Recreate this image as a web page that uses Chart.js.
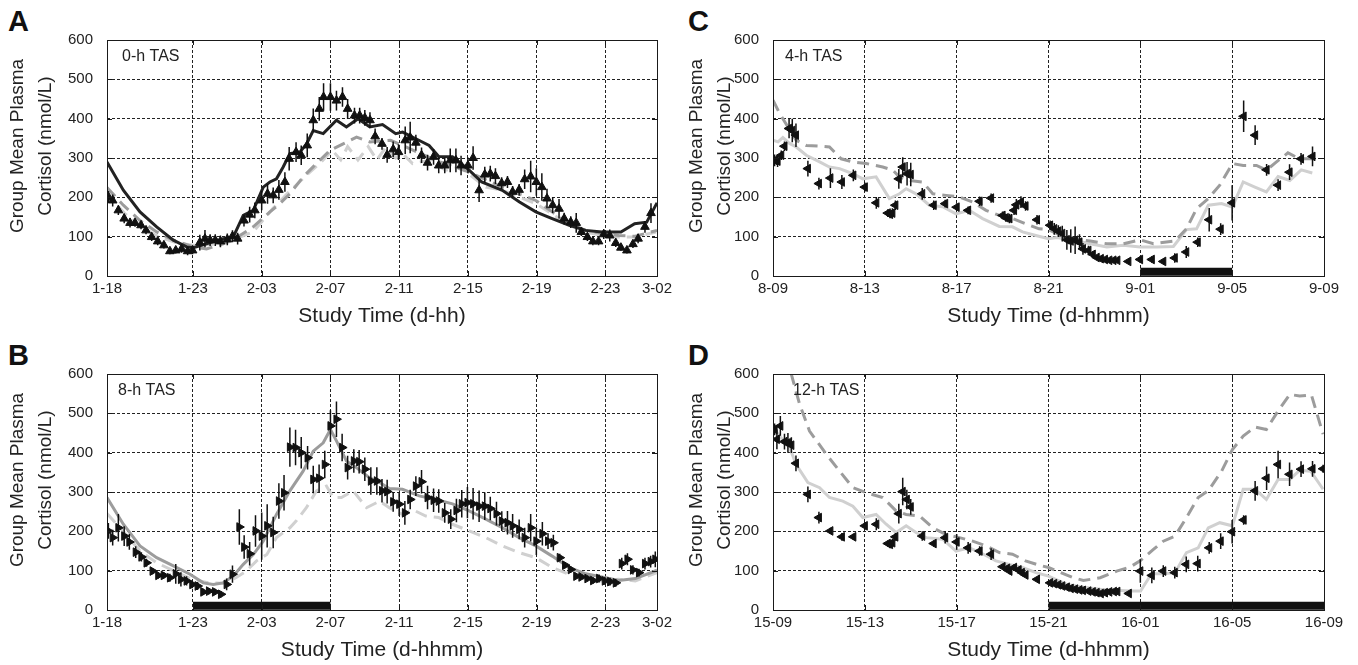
<!DOCTYPE html>
<html><head><meta charset="utf-8">
<script src="https://cdn.jsdelivr.net/npm/chart.js@4/dist/chart.umd.min.js"></script>
<style>
html,body{margin:0;padding:0;background:#fff;width:1358px;height:665px;overflow:hidden;position:relative;}
canvas{position:absolute;}
.lbl{position:absolute;font-family:'Liberation Sans',Arial,sans-serif;font-weight:bold;font-size:29px;line-height:29px;color:#111;}
</style></head><body>
<div class="lbl" style="left:8px;top:7px">A</div>
<div class="lbl" style="left:8px;top:341px">B</div>
<div class="lbl" style="left:688px;top:7px">C</div>
<div class="lbl" style="left:688px;top:341px">D</div>
<canvas id="cA" width="679" height="331" style="left:0;top:0"></canvas>
<canvas id="cB" width="679" height="331" style="left:0;top:334px"></canvas>
<canvas id="cC" width="679" height="331" style="left:679px;top:0"></canvas>
<canvas id="cD" width="679" height="331" style="left:679px;top:334px"></canvas>
<script>
// ---------- tick labels ----------
const abTickVals = [0,5,9,13,17,21,25,29,32];
const abTickLabels = ['1-18','1-23','2-03','2-07','2-11','2-15','2-19','2-23','3-02'];
const cdTickVals = [0,4,8,12,16,20,24];
const cTickLabels = ['8-09','8-13','8-17','8-21','9-01','9-05','9-09'];
const dTickLabels = ['15-09','15-13','15-17','15-21','16-01','16-05','16-09'];
const yTitleLines = ['Group Mean Plasma','Cortisol (nmol/L)'];

// ---------- Panel A (0-h TAS) ----------
const aHours = [0.08,0.33,0.66,1.0,1.34,1.63,1.98,2.27,2.6,2.95,3.31,3.66,4.0,4.34,4.69,4.98,5.4,5.7,6.0,6.3,6.6,7.0,7.3,7.6,7.97,8.3,8.6,9.0,9.34,9.67,10.0,10.35,10.6,11.0,11.3,11.65,12.0,12.35,12.6,13.0,13.35,13.7,14.0,14.4,14.7,15.0,15.3,15.6,16.0,16.3,16.65,16.96,17.35,17.64,17.97,18.3,18.65,19.0,19.3,19.65,19.97,20.3,20.6,21.0,21.3,21.65,21.98,22.3,22.6,22.96,23.3,23.6,23.98,24.3,24.65,24.98,25.3,25.6,25.93,26.3,26.6,26.98,27.3,27.6,27.95,28.27,28.6,28.9,29.25,29.6,29.9,30.25,30.6,30.9,31.3,31.65];
const aMean = [201,192,167,146,135,135,129,116,99,88,78,63,65,69,63,65,85,95,91,91,88,93,101,95,141,156,167,192,209,205,219,239,298,315,307,332,396,425,455,455,446,455,425,408,408,402,396,355,336,308,322,315,345,352,339,307,288,303,281,281,294,294,281,281,300,218,258,260,254,236,239,214,219,246,253,239,226,197,180,171,146,137,135,112,99,88,88,106,103,84,72,65,81,95,125,160];
const aErr = [15,15,12,12,12,10,10,10,10,10,8,8,8,10,10,10,20,22,15,15,15,15,15,15,15,20,20,25,25,20,25,25,30,25,25,30,30,30,35,35,25,25,25,20,20,20,20,20,15,20,20,20,35,40,20,20,20,20,20,20,30,30,25,20,30,30,20,20,20,15,15,15,15,25,40,35,35,25,20,25,15,15,25,10,10,10,10,12,15,10,8,8,10,12,15,25];
const aModelHours = [0,0.95,1.92,2.89,3.86,4.63,5.02,5.79,6.76,7.34,7.93,8.51,9.09,9.48,9.86,10.25,10.64,11.22,11.61,12.0,12.58,13.35,13.93,14.61,15.29,16.03,16.8,17.2,17.97,18.74,19.3,20.1,21.07,21.8,23.0,24.0,24.95,25.9,26.9,27.85,28.8,29.9,30.7,31.4,32];
const aModel = [290,218,163,125,91,74,72,82,95,99,154,167,226,239,247,277,311,315,336,370,362,396,379,400,379,385,362,366,349,332,304,303,269,239,218,188,163,146,129,116,112,112,133,137,186];
const aMidHours = [0,0.95,1.92,2.89,3.86,5.02,5.79,6.76,7.73,8.51,9.48,10.06,10.64,11.41,12.19,12.97,13.74,14.52,15.29,16.5,17.19,19.13,21.07,23.0,24.95,25.9,26.88,27.85,28.8,29.77,30.74,32];
const aMid = [225,180,141,112,91,74,69,82,103,125,163,184,209,252,286,319,336,353,341,345,332,294,264,226,192,163,133,116,108,103,101,116];
const aLightHours = [0,0.5,1,2,3,4,5,6,7,7.5,8.5,9.66,10.6,11.6,12.4,13.1,13.6,14.0,14.6,15.2,15.7,16.2,16.8,17.19,17.78,18.74,19.7,20.5,21.26,22.04,23.0,23.98,24.95,25.9,26.88,27.85,28.8,29.77,30.74,31.95];
const aLight = [215,185,160,125,100,85,78,80,85,95,112,172,214,256,287,320,295,329,295,329,295,326,300,311,286,294,269,277,252,226,218,201,184,158,129,112,103,99,99,112];

// ---------- Panel B (8-h TAS) ----------
const bHours = [0.08,0.33,0.66,1.0,1.3,1.67,2.0,2.3,2.65,2.98,3.3,3.66,4.0,4.3,4.63,4.96,5.27,5.6,5.93,6.28,6.63,6.96,7.3,7.7,7.98,8.3,8.64,9.0,9.32,9.67,10.0,10.3,10.64,10.97,11.3,11.67,12.0,12.34,12.67,13.0,13.35,13.68,14.0,14.36,14.67,15.0,15.35,15.7,16.0,16.3,16.65,17.0,17.33,17.64,17.97,18.3,18.65,19.0,19.3,19.65,20.0,20.33,20.64,20.97,21.3,21.65,21.98,22.3,22.66,22.97,23.3,23.6,23.98,24.3,24.65,24.98,25.33,25.66,25.97,26.34,26.65,26.98,27.3,27.6,27.95,28.28,28.63,28.96,29.27,29.6,29.95,30.28,30.6,30.95,31.3,31.63,31.9];
const bMean = [201,184,209,188,173,147,135,120,99,88,88,82,92,78,74,65,61,46,48,46,40,65,91,211,160,143,201,188,214,197,277,298,414,413,400,387,332,335,370,468,485,413,362,379,377,358,328,328,303,301,275,269,247,281,315,326,286,279,277,247,231,253,270,273,270,264,264,258,245,226,222,214,205,184,209,175,194,175,171,133,114,103,86,84,80,75,80,74,72,69,118,129,102,95,118,123,129];
const bErr = [20,20,35,25,20,15,12,10,8,8,8,10,25,18,12,10,10,8,8,8,8,15,22,45,30,30,40,60,55,40,45,45,50,45,40,30,35,35,35,40,45,35,30,30,30,30,35,35,30,30,25,30,30,25,25,30,30,30,30,25,25,30,35,40,40,40,35,30,30,25,30,30,25,25,35,35,30,20,20,10,8,8,6,6,6,8,10,10,10,10,15,15,12,10,15,15,20];
const bMidHours = [0,0.95,1.92,2.89,3.86,4.83,5.6,6.18,6.76,7.34,7.93,8.51,9.09,9.86,10.64,11.41,12.0,12.58,13.0,13.35,13.93,14.51,15.29,15.87,16.42,17.19,18.16,19.13,20.1,21.07,22.04,23.0,23.98,24.95,25.9,26.88,27.85,28.8,29.77,30.74,32];
const bMid = [286,218,163,133,112,91,69,65,69,86,116,141,175,243,303,353,404,425,459,430,379,362,336,324,309,307,290,281,270,252,231,209,184,163,137,108,92,84,75,80,101];
const bLightHours = [0,0.95,1.92,2.89,3.86,4.83,5.79,6.76,7.5,8.1,8.7,9.3,9.86,10.64,11.0,11.6,12.19,12.77,13.16,13.64,14.32,15.1,15.87,16.42,17.19,17.78,18.55,19.3,20.1,21.07,22.04,23.0,23.98,24.95,25.9,26.88,27.85,28.8,29.77,30.74,32];
const bLight = [245,200,150,120,100,80,70,68,82,99,125,141,184,209,226,260,303,315,286,286,303,260,277,260,243,255,239,235,218,201,184,163,146,133,108,91,78,74,78,74,95];
const bSleep = [5,13];

// ---------- Panel C (4-h TAS) ----------
const cHours = [0.07,0.2,0.36,0.5,0.7,0.84,1.0,1.52,2.0,2.5,3.0,3.5,4.0,4.5,5.0,5.1,5.2,5.33,5.48,5.65,5.84,6.0,6.5,7.0,7.5,8.0,8.5,9.0,9.5,10.0,10.14,10.3,10.5,10.6,10.8,11.0,11.5,12.07,12.25,12.43,12.6,12.8,12.97,13.16,13.35,13.5,13.74,13.93,14.1,14.28,14.46,14.65,14.83,15.0,15.48,15.99,16.5,17.0,17.5,18.0,18.5,19.0,19.5,20.0,20.5,21.0,21.5,22.0,22.5,23.0,23.5];
const cMean = [294,292,307,330,375,370,358,273,235,249,239,256,226,186,160,157,160,180,247,277,260,258,209,180,184,175,167,190,198,154,148,146,167,181,188,178,143,129,120,114,108,92,89,91,86,69,65,55,47,44,42,40,40,40,37,42,42,37,46,61,86,143,119,186,406,358,270,231,264,298,304];
const cErr = [15,15,12,12,25,30,30,20,15,25,18,15,12,15,10,10,12,12,25,25,30,30,15,12,10,10,10,12,12,10,10,12,12,15,15,12,12,12,15,15,20,25,30,35,20,15,12,8,6,5,5,5,5,5,5,8,8,5,12,15,12,30,15,45,40,25,15,15,20,15,25];
const cMidHours = [0,0.29,1.01,1.45,2.03,2.46,2.97,3.48,4.06,4.78,5.22,5.51,5.94,6.52,6.96,7.54,8.12,8.7,9.28,9.86,10.43,11.0,11.59,12.0,12.36,13.09,13.81,14.54,15.26,15.99,16.57,17.51,18.01,18.45,18.96,19.46,20.01,20.48,21.06,21.49,21.93,22.43,22.94,23.49];
const cMid = [447,413,345,332,330,328,298,290,286,277,269,252,243,239,209,205,201,188,167,154,146,133,120,118,108,95,89,82,82,92,82,89,120,171,197,231,286,281,281,269,290,313,298,298];
const cLightHours = [0,0.22,0.43,0.72,1.01,1.45,2.03,2.46,2.9,3.48,3.91,4.49,5.07,5.51,5.8,6.23,6.81,7.39,7.97,8.55,9.13,9.86,10.43,10.87,11.45,12.0,12.36,13.09,13.81,14.54,15.26,15.99,16.72,17.44,18.01,18.45,18.96,19.54,20.01,20.48,20.99,21.49,22.0,22.51,23.01,23.49];
const cLight = [345,341,352,337,328,307,290,277,273,260,247,252,197,209,222,209,180,176,158,167,146,126,125,112,103,95,98,91,82,74,78,74,74,75,118,120,180,184,175,239,226,214,253,243,270,262];
const cSleep = [16,20];

// ---------- Panel D (12-h TAS) ----------
const dHours = [0.07,0.17,0.32,0.5,0.65,0.8,1.0,1.52,2.0,2.5,3.0,3.5,4.0,4.5,5.0,5.1,5.2,5.33,5.48,5.65,5.83,6.0,6.5,7.0,7.5,8.0,8.5,9.0,9.5,10.0,10.2,10.3,10.5,10.7,10.84,11.0,11.5,12.07,12.25,12.43,12.6,12.8,12.97,13.16,13.35,13.5,13.74,13.93,14.1,14.28,14.46,14.65,14.85,15.0,15.5,16.0,16.5,17.0,17.5,18.0,18.5,19.0,19.5,20.0,20.5,21.0,21.5,22.0,22.5,23.0,23.5,23.96];
const dMean = [459,434,468,428,425,419,373,294,235,201,186,186,214,218,169,167,171,186,245,301,281,262,188,169,184,173,158,150,142,110,106,99,108,102,95,89,78,69,67,64,61,58,55,53,51,50,48,46,44,42,44,46,47,47,42,99,88,99,95,116,118,158,175,199,229,303,335,370,345,358,359,359];
const dErr = [15,25,25,20,25,20,20,20,15,8,10,8,10,15,8,10,10,10,25,35,25,20,12,8,15,20,15,12,15,5,8,8,8,8,8,5,5,3,3,3,3,3,3,3,3,3,3,3,3,3,3,3,3,3,3,30,20,15,15,20,20,15,20,30,12,25,30,35,30,20,20,10];
const dMidHours = [0,0.8,1.16,1.59,2.32,2.9,3.48,4.06,4.78,5.36,5.8,6.38,6.96,7.54,8.12,8.7,9.28,9.86,10.43,11.0,11.59,12.0,12.36,13.09,13.52,14.25,14.97,15.55,15.99,16.57,17.0,17.51,18.01,18.52,18.96,19.54,20.01,20.48,20.99,21.49,22.0,22.51,22.94,23.45,23.96];
const dMid = [740,599,523,455,396,353,311,298,286,252,243,239,209,192,184,175,163,146,142,125,114,108,99,82,75,82,99,109,125,154,175,188,235,286,303,353,408,442,465,459,506,548,544,547,447];
const dLightHours = [0,0.29,0.72,1.01,1.52,2.03,2.46,3.04,3.48,3.91,4.49,4.93,5.36,5.8,6.23,6.67,7.39,7.97,8.55,9.13,9.71,10.29,10.87,11.45,12.0,12.8,13.52,14.25,14.97,15.55,16.01,16.49,17.0,17.51,18.01,18.52,18.96,19.46,20.01,20.48,20.99,21.49,22.0,22.51,22.94,23.42,23.96];
const dLight = [464,442,413,370,324,311,286,277,264,235,243,218,197,214,197,184,180,150,158,143,125,116,108,95,86,65,58,53,50,48,48,92,92,95,146,158,209,222,214,307,307,281,332,332,355,353,307];
const dSleep = [12,24];

// ---------- helpers ----------
const FONT = "'Liberation Sans', Arial, sans-serif";
Chart.defaults.font.family = FONT;
Chart.defaults.color = '#222';
const pts = (h, v) => h.map((x, i) => ({x: x, y: v[i]}));
function errPts(h, v, e) {
  const out = [];
  for (let i = 0; i < h.length; i++) {
    out.push({x: h[i], y: v[i] - e[i]}, {x: h[i], y: v[i] + e[i]}, {x: h[i], y: null});
  }
  return out;
}

const decor = {
  id: 'decor',
  afterDatasetsDraw(chart, args, o) {
    const {ctx, chartArea: a} = chart;
    const xs = chart.scales.x, ys = chart.scales.y;
    ctx.save();
    ctx.strokeStyle = '#1a1a1a';
    ctx.lineWidth = 1;
    ctx.setLineDash([]);
    ctx.strokeRect(Math.round(a.left) + 0.5, Math.round(a.top) + 0.5, Math.round(a.right - a.left), Math.round(a.bottom - a.top));
    ctx.beginPath();
    xs.ticks.forEach(t => {
      if (t.value === xs.min || t.value === xs.max) return;
      const p = Math.round(xs.getPixelForValue(t.value)) + 0.5;
      ctx.moveTo(p, a.bottom); ctx.lineTo(p, a.bottom - 5);
      ctx.moveTo(p, a.top); ctx.lineTo(p, a.top + 5);
    });
    ys.ticks.forEach(t => {
      if (t.value === ys.min || t.value === ys.max) return;
      const p = Math.round(ys.getPixelForValue(t.value)) + 0.5;
      ctx.moveTo(a.left, p); ctx.lineTo(a.left + 5, p);
      ctx.moveTo(a.right, p); ctx.lineTo(a.right - 5, p);
    });
    ctx.stroke();
    ctx.fillStyle = '#222';
    ctx.font = '16px ' + FONT;
    ctx.textBaseline = 'middle';
    ctx.textAlign = 'left';
    ctx.fillText(o.label, a.left + o.labelDx, a.top + 17);
    ctx.font = '19px ' + FONT;
    ctx.textAlign = 'center';
    o.titleX.forEach((tx, i) => {
      ctx.save();
      ctx.translate(tx, o.titleY);
      ctx.rotate(-Math.PI / 2);
      ctx.fillText(yTitleLines[i], 0, 0);
      ctx.restore();
    });
    ctx.restore();
  }
};

function panel(id, p) {
  const ds = [];
  p.lines.forEach(l => ds.push({
    data: pts(l.h, l.v), showLine: true, borderColor: l.color, borderWidth: 3,
    borderDash: l.dash || [], pointRadius: 0, tension: 0, clip: 0, order: l.order
  }));
  if (p.sleep) ds.push({
    data: [{x: p.sleep[0], y: 10.5}, {x: p.sleep[1], y: 10.5}], showLine: true,
    borderColor: '#111', borderWidth: 8, borderCapStyle: 'butt', pointRadius: 0, clip: 0, order: 9
  });
  ds.push({data: errPts(p.h, p.v, p.e), showLine: true, spanGaps: false, borderColor: '#111',
    borderWidth: 1.5, pointRadius: 0, order: 1});
  ds.push({data: pts(p.h, p.v), showLine: false, pointStyle: 'triangle', rotation: p.rot,
    pointRadius: 5, backgroundColor: '#111', borderColor: '#111', borderWidth: 1, order: 0});

  new Chart(document.getElementById(id), {
    type: 'scatter',
    data: {datasets: ds},
    plugins: [decor],
    options: {
      responsive: false, animation: false, devicePixelRatio: 1, events: [],
      layout: {padding: {left: 0, top: 40, right: p.padRight, bottom: 0}},
      plugins: {legend: {display: false}, tooltip: {enabled: false},
        decor: {label: p.label, labelDx: p.labelDx, titleX: p.titleX, titleY: 146}},
      scales: {
        x: {
          type: 'linear', min: 0, max: p.xMax,
          afterBuildTicks: s => { s.ticks = p.tickVals.map(v => ({value: v})); },
          afterFit: s => { s.height = 55; },
          ticks: {autoSkip: false, maxRotation: 0, padding: 4, font: {size: 15},
            callback: v => { const i = p.tickVals.indexOf(v); return i >= 0 ? p.tickLabels[i] : ''; }},
          grid: {drawTicks: false, lineWidth: 1,
            color: c => (c.tick && (c.tick.value === 0 || c.tick.value === p.xMax)) ? 'rgba(0,0,0,0)' : '#222'},
          border: {display: false, dash: [3, 2]},
          title: {display: true, text: p.xTitle, font: {size: 21}, color: '#222', padding: {top: 0, bottom: 2}}
        },
        y: {
          min: 0, max: 600,
          afterFit: s => { s.width = p.yWidth; },
          ticks: {stepSize: 100, padding: 14, font: {size: 15}},
          grid: {drawTicks: false, lineWidth: 1,
            color: c => (c.tick && (c.tick.value === 0 || c.tick.value === 600)) ? 'rgba(0,0,0,0)' : '#222'},
          border: {display: false, dash: [3, 2]}
        }
      }
    }
  });
}

const MID = '#9c9c9c', LIGHT = '#d0d0d0', DASH = [12, 7];

panel('cA', {h: aHours, v: aMean, e: aErr, rot: 0, xMax: 32, tickVals: abTickVals, tickLabels: abTickLabels,
  xTitle: 'Study Time (d-hh)', label: '0-h TAS', labelDx: 15, padRight: 22, yWidth: 107, titleX: [17.5, 46],
  lines: [
    {h: aLightHours, v: aLight, color: LIGHT, dash: DASH, order: 4},
    {h: aMidHours, v: aMid, color: MID, dash: DASH, order: 3},
    {h: aModelHours, v: aModel, color: '#222', order: 2}
  ]});
panel('cB', {h: bHours, v: bMean, e: bErr, rot: 90, xMax: 32, tickVals: abTickVals, tickLabels: abTickLabels,
  xTitle: 'Study Time (d-hhmm)', label: '8-h TAS', labelDx: 11, padRight: 22, yWidth: 107, titleX: [17.5, 46], sleep: bSleep,
  lines: [
    {h: bLightHours, v: bLight, color: LIGHT, dash: DASH, order: 4},
    {h: bMidHours, v: bMid, color: MID, order: 3}
  ]});
panel('cC', {h: cHours, v: cMean, e: cErr, rot: -90, xMax: 24, tickVals: cdTickVals, tickLabels: cTickLabels,
  xTitle: 'Study Time (d-hhmm)', label: '4-h TAS', labelDx: 12, padRight: 34, yWidth: 94, titleX: [18, 46], sleep: cSleep,
  lines: [
    {h: cLightHours, v: cLight, color: LIGHT, order: 4},
    {h: cMidHours, v: cMid, color: MID, dash: DASH, order: 3}
  ]});
panel('cD', {h: dHours, v: dMean, e: dErr, rot: -90, xMax: 24, tickVals: cdTickVals, tickLabels: dTickLabels,
  xTitle: 'Study Time (d-hhmm)', label: '12-h TAS', labelDx: 20, padRight: 34, yWidth: 94, titleX: [18, 46], sleep: dSleep,
  lines: [
    {h: dLightHours, v: dLight, color: LIGHT, order: 4},
    {h: dMidHours, v: dMid, color: MID, dash: DASH, order: 3}
  ]});
</script>
</body></html>
